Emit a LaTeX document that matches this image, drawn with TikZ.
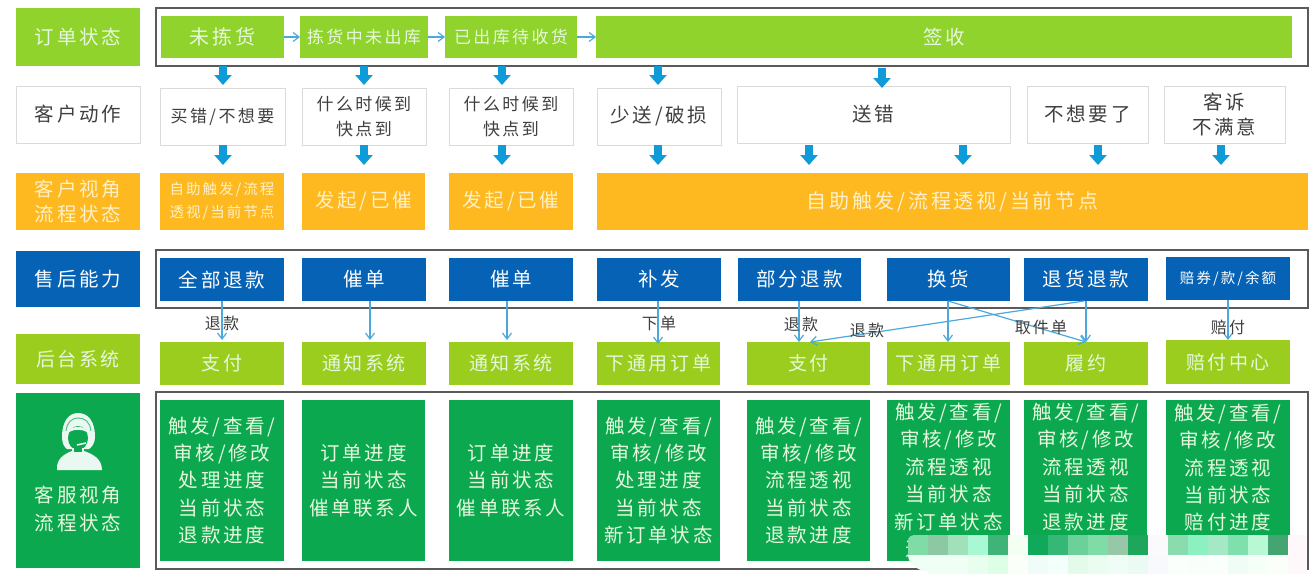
\documentclass[tikz,border=0pt]{standalone}
\usepackage{fontspec}
\usetikzlibrary{arrows.meta,calc}
\newfontfamily\cjk[LetterSpace=14]{Noto Sans CJK SC}
\definecolor{cLime}{HTML}{8FD32C}
\definecolor{cOlive}{HTML}{9BCD1F}
\definecolor{cGreen}{HTML}{0BA850}
\definecolor{cBlue}{HTML}{0562B5}
\definecolor{cOrange}{HTML}{FDB91F}
\definecolor{cArrow}{HTML}{0F9BD7}
\definecolor{cThin}{HTML}{4BA9DC}
\definecolor{cFrame}{HTML}{5A5A5A}
\definecolor{cPale}{HTML}{E6F8DC}
\definecolor{cPaleO}{HTML}{FFF0C8}
\definecolor{cDark}{HTML}{3F3F3F}
\definecolor{cEdge}{HTML}{DADADA}
\definecolor{mEnd}{HTML}{FFF8FA}
\definecolor{mFirstTop}{HTML}{7FDCA6}
\definecolor{mFirstBot}{HTML}{EFFFF6}
\tikzset{
  base/.style={inner sep=0pt,outer sep=0pt,align=center,text=cPale,font=\cjk\fontsize{19.5}{25}\selectfont},
  limebox/.style={base,fill=cLime},
  olivebox/.style={base,fill=cOlive,font=\cjk\fontsize{19}{25}\selectfont},
  greenbox/.style={base,fill=cGreen,font=\cjk\fontsize{19.5}{27.4}\selectfont},
  bluebox/.style={base,fill=cBlue,text=white},
  orangebox/.style={base,fill=cOrange,text=cPaleO},
  whitebox/.style={base,fill=white,draw=cEdge,line width=0.8pt,text=cDark},
  whitesmall/.style={whitebox,font=\cjk\fontsize{17}{25}\selectfont},
  frameline/.style={draw=cFrame,line width=1.4pt},
  blockarrow/.style={draw=cArrow,line width=7.5pt,-{Triangle[width=17pt,length=10pt]}},
  thinarrow/.style={draw=cThin,line width=1.2pt,-{Straight Barb[length=6pt,width=9pt]}},
  edgelabel/.style={inner sep=0pt,text=cDark,font=\cjk\fontsize{16}{18}\selectfont},
}
\newcommand{\bx}[7]{%
  \pgfmathsetmacro\bw{#4-#2}\pgfmathsetmacro\bh{#5-#3}%
  \pgfmathsetmacro\cx{(#2+#4)/2}\pgfmathsetmacro\cy{(#3+#5)/2}%
  \node[#6,minimum width=\bw pt,minimum height=\bh pt] (#1) at (\cx,\cy) {#7};}
\newcommand{\blk}[5]{\draw[blockarrow,shorten <=#4pt,shorten >=#5pt] (#1.south -| #3,0) -- (#2.north -| #3,0);}
\begin{document}
\begin{tikzpicture}[x=1pt,y=-1pt]
\useasboundingbox (0,0) rectangle (1316,578);
\fill[white] (0,0) rectangle (1316,578);
% frames
\bx{frameA}{156}{8}{1308}{66}{frameline,base}{}
\bx{frameB}{156}{250}{1308}{308}{frameline,base}{}
\bx{frameC}{156}{392}{1308}{569}{frameline,base}{}
% left labels
\bx{lab1}{16}{8}{140}{66}{limebox}{订单状态}
\bx{lab2}{16}{86}{140}{143}{whitebox}{客户动作}
\bx{lab3}{16}{173}{140}{230}{orangebox}{客户视角\\流程状态}
\bx{lab4}{16}{251}{140}{307}{bluebox}{售后能力}
\bx{lab5}{16}{334}{140}{384}{olivebox}{后台系统}
\bx{lab6}{16}{393}{140}{568}{base,fill=cGreen}{}
\node[base,font=\cjk\fontsize{19.5}{27.4}\selectfont] (lab6t) at (78,509) {客服视角\\流程状态};
% headset icon
\fill[white!92!cGreen] (62,437) .. controls (62,421) and (69,413) .. (78,413) .. controls (88,413) and (95,421) .. (95,437) .. controls (95,443) and (92,447) .. (89,449) -- (67,449) .. controls (64,447) and (62,443) .. (62,437) -- cycle;
\draw[cGreen!70!white,line width=1pt] (66,431) .. controls (67,422) and (72,418) .. (78,418) .. controls (85,418) and (90,422) .. (91,431);
\fill[cGreen] (78,438) ellipse[x radius=10,y radius=12];
\fill[white!92!cGreen] (69,432) .. controls (71,425) and (85,425) .. (87,432) .. controls (82,429) and (74,429) .. (69,432) -- cycle;
\fill[white!92!cGreen] (57,470) .. controls (56,459) and (64,454) .. (72,451) -- (84,451) .. controls (93,454) and (102,459) .. (102,470) -- cycle;
\fill[white!92!cGreen] (72,448) rectangle (84,455);
\fill[cGreen] (74,447) rectangle (82,452);
\draw[white,line width=1.5pt] (86,443) -- (77,445);
% row 1
\bx{o1}{161}{16}{284}{58}{limebox,font=\cjk\fontsize{20}{25}\selectfont}{未拣货}
\bx{o2}{300}{16}{428}{58}{limebox,font=\cjk\fontsize{17}{20}\selectfont}{拣货中未出库}
\bx{o3}{445}{16}{577}{58}{limebox,font=\cjk\fontsize{17}{20}\selectfont}{已出库待收货}
\bx{o4}{596}{16}{1292}{58}{limebox}{签收}
\draw[thinarrow] (o1) -- (o2);
\draw[thinarrow] (o2) -- (o3);
\draw[thinarrow] (o3) -- (o4);
% row 2
\bx{c1}{160}{88}{285}{145}{whitesmall}{买错/不想要}
\bx{c2}{302}{88}{426}{145}{whitesmall}{什么时候到\\快点到}
\bx{c3}{449}{88}{573}{145}{whitesmall}{什么时候到\\快点到}
\bx{c4}{597}{88}{721}{145}{whitebox}{少送/破损}
\bx{c5}{737}{86}{1010}{143}{whitebox}{送错}
\bx{c6}{1027}{86}{1148}{143}{whitebox}{不想要了}
\bx{c7}{1164}{86}{1285}{143}{whitebox}{客诉\\不满意}
% row 3
\bx{v1}{160}{173}{284}{230}{orangebox,font=\cjk\fontsize{14.5}{23}\selectfont}{自助触发/流程\\透视/当前节点}
\bx{v2}{302}{173}{425}{230}{orangebox}{发起/已催}
\bx{v3}{449}{173}{573}{230}{orangebox}{发起/已催}
\bx{v4}{597}{173}{1308}{230}{orangebox,font=\cjk\fontsize{20}{25}\selectfont}{自助触发/流程透视/当前节点}
% block arrows
\blk{o1}{c1}{223}{8}{3}
\blk{o2}{c2}{364}{8}{3}
\blk{o3}{c3}{502}{8}{3}
\blk{o4}{c4}{658}{8}{3}
\blk{o4}{c5}{882}{10}{-2}
\blk{c1}{v1}{223}{0}{8}
\blk{c2}{v2}{364}{0}{8}
\blk{c3}{v3}{502}{0}{8}
\blk{c4}{v4}{658}{0}{8}
\blk{c5}{v4}{809}{2}{8}
\blk{c5}{v4}{963}{2}{8}
\blk{c6}{v4}{1098}{2}{8}
\blk{c7}{v4}{1221}{2}{8}
% row 4
\bx{s1}{160}{258}{284}{301}{bluebox}{全部退款}
\bx{s2}{302}{258}{426}{301}{bluebox}{催单}
\bx{s3}{449}{258}{573}{301}{bluebox}{催单}
\bx{s4}{597}{258}{721}{301}{bluebox}{补发}
\bx{s5}{738}{258}{861}{301}{bluebox}{部分退款}
\bx{s6}{887}{258}{1010}{301}{bluebox}{换货}
\bx{s7}{1024}{258}{1148}{301}{bluebox}{退货退款}
\bx{s8}{1166}{257}{1290}{300}{bluebox,font=\cjk\fontsize{14.5}{16}\selectfont}{赔券/款/余额}
% row 5
\bx{b1}{160}{342}{284}{385}{olivebox}{支付}
\bx{b2}{302}{342}{426}{385}{olivebox}{通知系统}
\bx{b3}{449}{342}{573}{385}{olivebox}{通知系统}
\bx{b4}{597}{342}{720}{385}{olivebox}{下通用订单}
\bx{b5}{747}{342}{870}{385}{olivebox}{支付}
\bx{b6}{887}{342}{1010}{385}{olivebox}{下通用订单}
\bx{b7}{1024}{342}{1148}{385}{olivebox}{履约}
\bx{b8}{1166}{340}{1290}{384}{olivebox}{赔付中心}
% thin connectors
\draw[thinarrow,shorten >=2pt] (s1.south -| 222,0) -- (b1.north -| 222,0);
\draw[thinarrow,shorten >=2pt] (s2.south -| 370,0) -- (b2.north -| 370,0);
\draw[thinarrow,shorten >=2pt] (s3.south -| 507,0) -- (b3.north -| 507,0);
\draw[thinarrow,shorten >=-2pt] (s4.south -| 658,0) -- (b4.north -| 658,0);
\draw[thinarrow] (s5.south -| 799,0) -- (b5.north -| 799,0);
\draw[thinarrow] (s6.south -| 948,0) -- (b6.north -| 948,0);
\draw[thinarrow] (s7.south -| 1086,0) -- (b7.north -| 1086,0);
\draw[thinarrow] (s6.south -| 948,0) -- (b7.north -| 1086,0);
\draw[thinarrow] (s7.south -| 1084,0) -- (b5.north -| 810,0);
\draw[thinarrow] (s8.south -| 1228,0) -- (b8.north -| 1228,0);
% connector labels
\node[edgelabel] (l1) at (222,323) {退款};
\node[edgelabel] (l2) at (659,323) {下单};
\node[edgelabel] (l3) at (801,324) {退款};
\node[edgelabel] (l4) at (867,330) {退款};
\node[edgelabel] (l5) at (1041,327) {取件单};
\node[edgelabel] (l6) at (1228,327) {赔付};
% row 6
\bx{g1}{160}{400}{284}{561}{greenbox}{触发/查看/\\审核/修改\\处理进度\\当前状态\\退款进度}
\bx{g2}{302}{400}{425}{561}{greenbox}{订单进度\\当前状态\\催单联系人}
\bx{g3}{449}{400}{573}{561}{greenbox}{订单进度\\当前状态\\催单联系人}
\bx{g4}{597}{400}{720}{561}{greenbox}{触发/查看/\\审核/修改\\处理进度\\当前状态\\新订单状态}
\bx{g5}{747}{400}{870}{561}{greenbox}{触发/查看/\\审核/修改\\流程透视\\当前状态\\退款进度}
\bx{g6}{887}{400}{1010}{561}{greenbox}{触发/查看/\\审核/修改\\流程透视\\当前状态\\新订单状态\\退款进度}
\bx{g7}{1024}{400}{1147}{561}{greenbox}{触发/查看/\\审核/修改\\流程透视\\当前状态\\退款进度\\人工介入}
\bx{g8}{1166}{400}{1290}{561}{greenbox}{触发/查看/\\审核/修改\\流程透视\\当前状态\\赔付进度\\ }
% mosaic patch over the lower right corner
\foreach \i/\top/\bot in {1/8CC8A2/F0FFF6,2/A1E0BB/EFFFF5,3/A8F8D4/E8FFF0,4/40B378/DCFFE6,
  5/F3FFF3/FAFFFA,6/10A85A/F0FCF8,7/35B875/F2FFFA,8/6BD09A/E4FBEC,9/7FDCA6/EAFDF0,
  10/96C8A8/F0FCF6,11/1EA75A/ECFAF4,12/FAFAFC/F8F9FC,13/8ADCAE/FBFFFB,14/8CF0C0/F8FFFB,
  15/A5E8C5/FAFFFB,16/80E0AD/F0FCF6,17/B8F8D4/F4FFF8,18/45A570/FAFFFA}{
  \definecolor{mTop}{HTML}{\top}\definecolor{mBot}{HTML}{\bot}
  \pgfmathsetmacro\xa{908+20*\i}\pgfmathsetmacro\xb{\xa+20}
  \fill[mTop] (\xa,535) rectangle (\xb,555);
  \fill[mBot] (\xa,555) rectangle (\xb,574);
}
\fill[mEnd] (1288,535) rectangle (1306.5,574);
\fill[mFirstTop] (908,541) .. controls (908,537) and (911,535) .. (915,535) -- (928,535) -- (928,555) -- (908,555) -- cycle;
\fill[mFirstBot] (908,555) -- (928,555) -- (928,571) -- (924,571) .. controls (916,569) and (908,563) .. (908,555) -- cycle;
\end{tikzpicture}
\end{document}
